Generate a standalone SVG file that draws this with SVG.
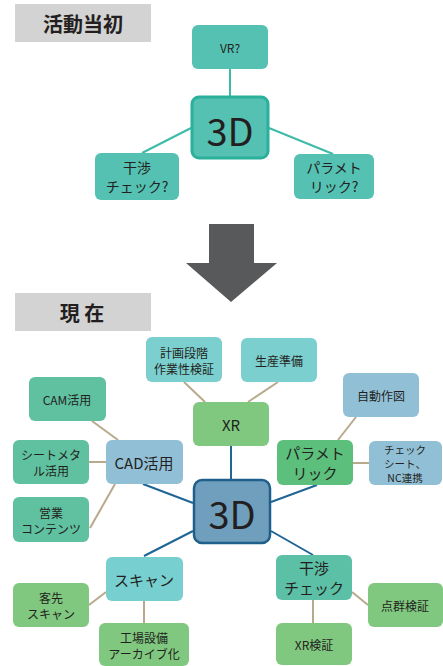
<svg xmlns="http://www.w3.org/2000/svg" width="443" height="666" viewBox="0 0 443 666">
<style>
text{font-family:"Noto Sans CJK JP","Noto Sans",sans-serif;text-anchor:middle;dominant-baseline:central;fill:#231f20}
.hdr{font-weight:bold;font-size:20px}
.s{font-size:12px}
.xs{font-size:10.5px}
.m{font-size:15px}
.t{font-size:14px}
.big{font-size:38px}
.tan{stroke:#b8a98c;stroke-width:2;fill:none}
.blu{stroke:#1f6596;stroke-width:2;fill:none}
.tl{stroke:#3dbaa8;stroke-width:2;fill:none}
</style>
<rect width="443" height="666" fill="#fff"/>
<g id="hdr1"><rect x="15" y="4" width="136" height="38" fill="#d3d3d3"/><text class="hdr" x="83" y="23">活動当初</text></g>
<g id="connectors-top">
<line class="tl" x1="230" y1="69" x2="230" y2="96"/>
<line class="tl" x1="191" y1="128" x2="142" y2="153"/>
<line class="tl" x1="269" y1="128" x2="333" y2="154"/>
</g>
<g id="vr"><rect x="192" y="25" width="76" height="44" rx="6" fill="#55c1b2"/><text class="s" x="230" y="47">VR?</text></g>
<g id="c3d-top"><rect x="192" y="97" width="76" height="61" rx="7" fill="#55c1b2" stroke="#2bb09c" stroke-width="3"/><text class="big" x="230" y="129">3D</text></g>
<g id="kansho-top"><rect x="95" y="153" width="84" height="47" rx="6" fill="#55c1b2"/><text class="t" x="137" y="167">干渉</text><text class="t" x="137" y="186">チェック?</text></g>
<g id="param-top"><rect x="294" y="154" width="80" height="45" rx="6" fill="#55c1b2"/><text class="t" x="334" y="167">パラメト</text><text class="t" x="334" y="186">リック?</text></g>
<g id="arrow"><polygon points="209,224 254,224 254,263 277,263 231,302 186,263 209,263" fill="#58595b"/></g>
<g id="hdr2"><rect x="15" y="293" width="136" height="38" fill="#d3d3d3"/><text class="hdr" x="82" y="312">現 在</text></g>
<g id="connectors">
<line class="tan" x1="184" y1="382" x2="205" y2="402"/>
<line class="tan" x1="278" y1="382" x2="248" y2="402"/>
<line class="tan" x1="356" y1="417" x2="338" y2="440"/>
<line class="tan" x1="353" y1="463" x2="369" y2="463"/>
<line class="tan" x1="92" y1="421" x2="118" y2="440"/>
<line class="tan" x1="89" y1="462" x2="106" y2="462"/>
<line class="tan" x1="90" y1="528" x2="115" y2="484"/>
<line class="tan" x1="89" y1="605" x2="106" y2="592"/>
<line class="tan" x1="144" y1="601" x2="144" y2="623"/>
<line class="tan" x1="352" y1="592" x2="368" y2="605"/>
<line class="tan" x1="313" y1="600" x2="313" y2="623"/>
<line class="blu" x1="231" y1="446" x2="231" y2="480"/>
<line class="blu" x1="143" y1="484" x2="193" y2="503"/>
<line class="blu" x1="271" y1="502" x2="317" y2="485"/>
<line class="blu" x1="193" y1="531" x2="144" y2="556"/>
<line class="blu" x1="271" y1="531" x2="313" y2="555"/>
</g>
<g id="keikaku"><rect x="146" y="337" width="76" height="45" rx="6" fill="#7ccfcf"/><text class="s" x="184" y="352">計画段階</text><text class="s" x="184" y="368">作業性検証</text></g>
<g id="seisan"><rect x="241" y="338" width="76" height="44" rx="6" fill="#7ccfcf"/><text class="s" x="279" y="360">生産準備</text></g>
<g id="xr"><rect x="193" y="402" width="76" height="44" rx="6" fill="#80c87f"/><text class="m" x="231" y="424">XR</text></g>
<g id="jido"><rect x="343" y="373" width="76" height="44" rx="6" fill="#91bfd6"/><text class="s" x="381" y="395">自動作図</text></g>
<g id="param"><rect x="277" y="440" width="76" height="45" rx="6" fill="#5cc07c"/><text class="m" x="315" y="452">パラメト</text><text class="m" x="315" y="472">リック</text></g>
<g id="check"><rect x="369" y="441" width="73" height="44" rx="6" fill="#91bfd6"/><text class="xs" x="405" y="449">チェック</text><text class="xs" x="405" y="463">シート、</text><text class="xs" x="405" y="477">NC連携</text></g>
<g id="cam"><rect x="29" y="377" width="77" height="44" rx="6" fill="#5fc1a0"/><text class="s" x="67" y="399">CAM活用</text></g>
<g id="cad"><rect x="106" y="440" width="77" height="44" rx="6" fill="#91bfd6"/><text class="m" x="144" y="462">CAD活用</text></g>
<g id="sheet"><rect x="13" y="440" width="76" height="44" rx="6" fill="#5fc1a0"/><text class="s" x="51" y="454">シートメタ</text><text class="s" x="51" y="470">ル活用</text></g>
<g id="eigyo"><rect x="13" y="497" width="76" height="45" rx="6" fill="#5fc1a0"/><text class="s" x="51" y="512">営業</text><text class="s" x="51" y="528">コンテンツ</text></g>
<g id="c3d"><rect x="194" y="480" width="76" height="63" rx="8" fill="#6f9fbc" stroke="#1f5f8b" stroke-width="2.5"/><text class="big" x="232" y="512">3D</text></g>
<g id="scan"><rect x="106" y="557" width="77" height="44" rx="6" fill="#77cfcf"/><text class="m" x="144" y="579">スキャン</text></g>
<g id="kyaku"><rect x="13" y="583" width="76" height="44" rx="6" fill="#80c87f"/><text class="s" x="51" y="597">客先</text><text class="s" x="51" y="613">スキャン</text></g>
<g id="kojo"><rect x="99" y="623" width="90" height="43" rx="6" fill="#80c87f"/><text class="s" x="144" y="637">工場設備</text><text class="s" x="144" y="653">アーカイブ化</text></g>
<g id="kansho"><rect x="276" y="555" width="76" height="45" rx="6" fill="#5cc0a6"/><text class="m" x="314" y="567">干渉</text><text class="m" x="314" y="587">チェック</text></g>
<g id="tengun"><rect x="368" y="583" width="75" height="44" rx="6" fill="#80c87f"/><text class="s" x="405" y="605">点群検証</text></g>
<g id="xrkensho"><rect x="276" y="623" width="76" height="42" rx="6" fill="#80c87f"/><text class="s" x="314" y="644">XR検証</text></g>
</svg>
